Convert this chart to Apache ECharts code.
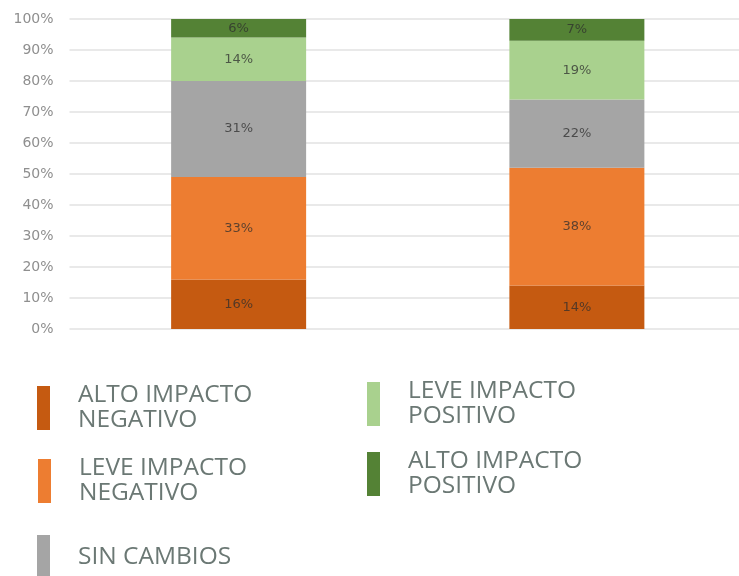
<!DOCTYPE html>
<html>
<head>
<meta charset="utf-8">
<script src="https://cdn.jsdelivr.net/npm/echarts@6/dist/echarts.min.js"></script>
<style>
  html, body { margin: 0; padding: 0; background: #fff; overflow: hidden; }
  /* el area de la grafica sigue un poco mas alla del borde derecho */
  #chart { width: 746px; height: 576px; }
</style>
</head>
<body>
<div id="chart"></div>
<script>
// datos (porcentajes por columna)
const categories = ['Grupo 1', 'Grupo 2'];
const seriesNames = ['ALTO IMPACTO NEGATIVO', 'LEVE IMPACTO NEGATIVO', 'SIN CAMBIOS', 'LEVE IMPACTO POSITIVO', 'ALTO IMPACTO POSITIVO'];
const altoNegativo = [16, 14];
const leveNegativo = [33, 38];
const sinCambios = [31, 22];
const levePositivo = [14, 19];
const altoPositivo = [6, 7];
const colors = ['#C55A11', '#ED7D31', '#A5A5A5', '#A9D18E', '#548235'];

const values = [altoNegativo, leveNegativo, sinCambios, levePositivo, altoPositivo];

// posicion de cada leyenda (dos columnas)
const legendPos = [
  { left: 37, top: 383 },
  { left: 38, top: 456 },
  { left: 37, top: 535 },
  { left: 367, top: 379 },
  { left: 367, top: 449 }
];

let chart = echarts.init(document.getElementById('chart'));

let option = {
  animation: false,
  color: colors,
  grid: {
    left: 69.5,
    right: 0,
    top: 19,
    bottom: 247,
    containLabel: false
  },
  legend: seriesNames.map((name, i) => ({
    data: [name],
    left: legendPos[i].left,
    top: legendPos[i].top,
    padding: 0,
    orient: 'vertical',
    icon: 'rect',
    itemWidth: 13,
    itemHeight: 44,
    selectedMode: false,
    formatter: n => n === 'SIN CAMBIOS' ? n : n.replace(/ (\S+)$/, '\n$1'),
    textStyle: {
      fontFamily: 'Open Sans',
      fontSize: 24.5,
      lineHeight: 25,
      color: '#6b7874',
      padding: [0, 0, 0, 23]
    }
  })),
  xAxis: {
    type: 'category',
    data: categories,
    axisLine: { show: false },
    axisTick: { show: false },
    axisLabel: { show: false }
  },
  yAxis: {
    type: 'value',
    min: 0,
    max: 100,
    interval: 10,
    axisLine: { show: false },
    axisTick: { show: false },
    axisLabel: {
      formatter: '{value}%',
      fontFamily: 'DejaVu Sans',
      fontSize: 14,
      color: '#8f8f8f',
      margin: 16
    },
    splitLine: {
      lineStyle: { color: '#e2e2e2', width: 1.5 }
    }
  },
  series: seriesNames.map((name, i) => ({
    name: name,
    type: 'bar',
    stack: 'total',
    barWidth: 135,
    data: values[i],
    label: {
      show: true,
      position: 'inside',
      formatter: '{c}%',
      fontFamily: 'DejaVu Sans',
      fontSize: 13,
      color: 'rgba(45,45,45,0.75)'
    }
  }))
};

chart.setOption(option);
</script>
</body>
</html>
